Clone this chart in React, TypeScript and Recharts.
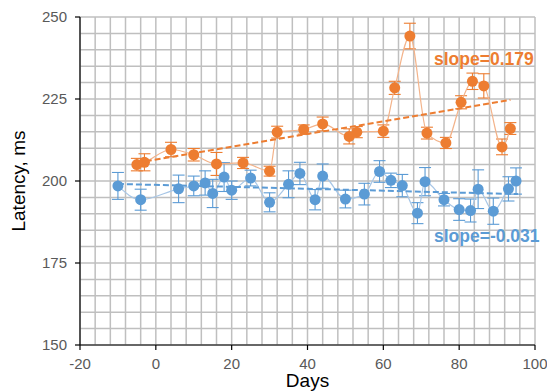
import React from 'react';
import { ScatterChart, Scatter, XAxis, YAxis, CartesianGrid, ErrorBar } from 'recharts';

const orangeX = [-5, -3, 4, 10, 16, 23, 30, 32, 39, 44, 51, 53, 60, 63, 67, 71.5, 76.5, 80.5, 83.5, 86.5, 91.3, 93.5];
const orangeY = [205.0, 205.7, 209.6, 208.0, 205.2, 205.5, 203.0, 214.9, 215.7, 217.4, 213.6, 214.9, 215.2, 228.4, 244.2, 214.6, 211.6, 224.0, 230.4, 229.0, 210.4, 216.0];
const orangeErr = [1.9, 2.6, 2.2, 1.9, 3.5, 1.7, 1.5, 1.8, 1.4, 2.1, 2.3, 1.7, 1.9, 2.0, 3.9, 1.8, 1.7, 2.0, 2.5, 3.7, 2.4, 1.8];

const blueX = [-10, -4, 6, 10, 13, 15, 18, 20, 25, 30, 35, 38, 42, 44, 50, 55, 59, 62, 65, 69, 71, 76, 80, 83, 85, 89, 93, 95];
const blueY = [198.5, 194.3, 197.6, 198.5, 199.4, 196.2, 201.2, 197.2, 200.9, 193.5, 199.0, 202.3, 194.3, 201.5, 194.5, 196.0, 202.9, 200.2, 198.6, 190.2, 199.8, 194.3, 191.3, 191.0, 197.5, 190.8, 197.6, 200.0];
const blueErr = [4.1, 3.2, 4.2, 3.0, 3.7, 4.3, 4.4, 2.8, 2.4, 2.9, 4.1, 3.4, 3.1, 3.7, 2.7, 3.3, 3.3, 2.2, 3.4, 3.2, 4.3, 1.9, 3.3, 3.5, 5.9, 4.0, 3.7, 4.0];

const orangeTrendX = [-5, 93.5];
const orangeTrendY = [205.6, 224.7];
const blueTrendX = [-10, 95.5];
const blueTrendY = [199.1, 196.0];

const xTicks = [-20, 0, 20, 40, 60, 80, 100];
const yTicks = [150, 175, 200, 225, 250];
const gridX = [-20, -16, -12, -8, -4, 0, 4, 8, 12, 16, 20, 24, 28, 32, 36, 40, 44, 48, 52, 56, 60, 64, 68, 72, 76, 80, 84, 88, 92, 96, 100];
const gridY = [150, 155, 160, 165, 170, 175, 180, 185, 190, 195, 200, 205, 210, 215, 220, 225, 230, 235, 240, 245, 250];

const slopeLabels = ['slope=0.179', 'slope=-0.031'];

const ORANGE = '#ED7D31';
const BLUE = '#5B9BD5';
const FONT = '"Liberation Sans", Arial, sans-serif';

const orangeData = orangeX.map((x, i) => ({ x, y: orangeY[i], err: orangeErr[i] }));
const blueData = blueX.map((x, i) => ({ x, y: blueY[i], err: blueErr[i] }));
const orangeTrend = orangeTrendX.map((x, i) => ({ x, y: orangeTrendY[i] }));
const blueTrend = blueTrendX.map((x, i) => ({ x, y: blueTrendY[i] }));

const dot = (color: string) => (props: any) => (
  <circle cx={props.cx} cy={props.cy} r={5.5} fill={color} stroke="none" />
);
const noDot = () => <g />;

const vGen = (props: any) => {
  const ax = props.xAxis;
  if (ax && typeof ax.scale === 'function') return gridX.map((v) => ax.scale(v));
  const o = props.offset;
  return gridX.map((v) => o.left + ((v + 20) / 120) * o.width);
};
const hGen = (props: any) => {
  const ax = props.yAxis;
  if (ax && typeof ax.scale === 'function') return gridY.map((v) => ax.scale(v));
  const o = props.offset;
  return gridY.map((v) => o.top + ((250 - v) / 100) * o.height);
};

export default function App() {
  const tickStyle = { fill: '#595959', fontSize: 15, fontFamily: FONT };
  return (
    <div style={{ position: 'absolute', left: 0, top: 0, width: 547, height: 392, background: '#fff' }}>
      <ScatterChart
        width={547}
        height={392}
        margin={{ top: 17, right: 12, bottom: 0, left: 0 }}
        style={{ fontFamily: FONT }}
      >
        <CartesianGrid
          stroke="#bfbfbf"
          strokeWidth={1.5}
          verticalCoordinatesGenerator={vGen}
          horizontalCoordinatesGenerator={hGen}
        />
        <XAxis
          type="number"
          dataKey="x"
          domain={[-20, 100]}
          ticks={xTicks}
          allowDataOverflow
          height={47}
          tickSize={5}
          tickMargin={8}
          axisLine={{ stroke: '#000', strokeWidth: 1.2 }}
          tickLine={{ stroke: '#000', strokeWidth: 1.2 }}
          tick={tickStyle}
          label={{ value: 'Days', position: 'insideBottom', offset: 5, fill: '#000', fontSize: 19, fontFamily: FONT }}
        />
        <YAxis
          type="number"
          dataKey="y"
          domain={[150, 250]}
          ticks={yTicks}
          allowDataOverflow
          width={80}
          tickSize={5}
          tickMargin={8}
          axisLine={{ stroke: '#000', strokeWidth: 1.2 }}
          tickLine={{ stroke: '#000', strokeWidth: 1.2 }}
          tick={tickStyle}
          label={{
            value: 'Latency, ms',
            angle: -90,
            position: 'insideLeft',
            offset: 18.5,
            fill: '#000',
            fontSize: 19,
            fontFamily: FONT,
            style: { textAnchor: 'middle' },
          }}
        />
        <Scatter
          data={blueData}
          fill={BLUE}
          line={{ stroke: '#a7c6e6', strokeWidth: 1.2 }}
          lineJointType="monotoneX"
          shape={dot(BLUE)}
          isAnimationActive={false}
        >
          <ErrorBar dataKey="err" direction="y" width={6} stroke={BLUE} strokeWidth={1.1} />
        </Scatter>
        <Scatter
          data={orangeData}
          fill={ORANGE}
          line={{ stroke: '#f3b38a', strokeWidth: 1.2 }}
          lineJointType="monotoneX"
          shape={dot(ORANGE)}
          isAnimationActive={false}
        >
          <ErrorBar dataKey="err" direction="y" width={6} stroke={ORANGE} strokeWidth={1.1} />
        </Scatter>
        <Scatter
          data={blueTrend}
          fill={BLUE}
          line={{ stroke: BLUE, strokeWidth: 2, strokeDasharray: '6 3' }}
          shape={noDot}
          isAnimationActive={false}
        />
        <Scatter
          data={orangeTrend}
          fill={ORANGE}
          line={{ stroke: ORANGE, strokeWidth: 2, strokeDasharray: '6 3' }}
          shape={noDot}
          isAnimationActive={false}
        />
      </ScatterChart>
      <svg
        width={547}
        height={392}
        style={{ position: 'absolute', left: 0, top: 0, pointerEvents: 'none' }}
      >
        <text x={434} y={65} fill={ORANGE} fontSize={17.5} fontWeight="bold" fontFamily={FONT}>
          {slopeLabels[0]}
        </text>
        <text x={434} y={242} fill={BLUE} fontSize={17.5} fontWeight="bold" fontFamily={FONT}>
          {slopeLabels[1]}
        </text>
      </svg>
    </div>
  );
}
